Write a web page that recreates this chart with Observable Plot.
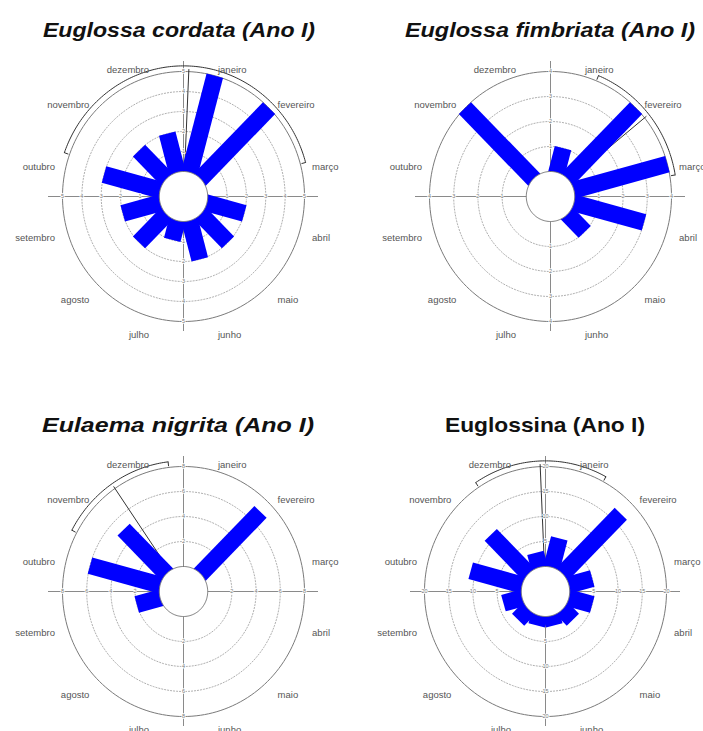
<!DOCTYPE html>
<html><head><meta charset="utf-8">
<script src="https://cdn.jsdelivr.net/npm/d3@7"></script>
<script src="https://cdn.jsdelivr.net/npm/@observablehq/plot@0.6"></script>
<style>
html,body{margin:0;padding:0;background:#fff;overflow:hidden;}
#root{position:relative;width:703px;height:731px;overflow:hidden;}
.title{position:absolute;width:400px;text-align:center;font-family:"Liberation Sans",Arial,sans-serif;font-weight:bold;font-size:21px;line-height:21px;color:#111;white-space:nowrap;transform-origin:50% 50%;}
.title span{display:inline-block;}
.panel{position:absolute;}
.panel svg{max-width:none !important;display:block;}
</style></head><body><div id="root"></div>
<script>
// ---- data ----
const months = ["janeiro","fevereiro","março","abril","maio","junho","julho","agosto","setembro","outubro","novembro","dezembro"];
const monthAngles = [15,45,75,105,135,165,195,225,255,285,315,345];
const cordata    = [5,5,0,2,2,2,1,2,2,3,2,2];
const fimbriata  = [1,4,4,3,1,0,0,0,0,0,4,0];
const nigrita    = [0,7,0,0,0,0,0,0,2,6,5,0];
const euglossina = [6,17,5,5,3,2,2,3,4,11,11,3];
const titles = ["Euglossa cordata (Ano I)","Euglossa fimbriata (Ano I)","Eulaema nigrita (Ano I)","Euglossina (Ano I)"];
const italicTitle = [true,true,true,false];
const scaleMax = [5,4,8,20];
const ringTicks = [[1,2,3,4,5],[1,2,3,4],[2,4,6,8],[5,10,15,20]];
const meanAngle = [2.5,51,325.5,357.5];
const ciLow  = [289.6,22.3,298,326.5];
const ciHigh = [74.9,80.5,353,28.5];
const series = [cordata,fimbriata,nigrita,euglossina];

// ---- layout (pixels) ----
const centers = [[182.7,196],[549.7,196],[182.7,591],[544.7,591]];
const titleCX = [179,550,178,545];
const titleTop = [19,19,414,414];
const titleWidth = [272,290,272,200];
const RX = 121, RY = 125, W = 340, H = 292;

const root = document.getElementById("root");
const rad = a => a*Math.PI/180;
const pol = (r,a) => ({x: r*Math.sin(rad(a)), y: r*Math.cos(rad(a))});
const circle = r => d3.range(0,361,2).map(a => pol(r,a));

series.forEach((vals, k) => {
  const max = scaleMax[k];
  const r0 = 0.2;
  const rho = v => r0 + (1-r0)*v/max;
  const bars = vals.map((v,i) => ({month: months[i], value: v, ...pol(rho(v), monthAngles[i])})).filter(d => d.value > 0);
  const rings = ringTicks[k].filter(t => t < max).flatMap(t => circle(rho(t)).map(p => ({t, ...p})));
  const outer = circle(rho(max));
  const inner = circle(r0);
  let lo = ciLow[k], hi = ciHigh[k]; if (hi < lo) hi += 360;
  const arcR = 1.045;
  const arc = d3.range(lo, hi, 1).concat([hi]).map(a => pol(arcR, a));
  const ciEnds = [lo, hi].map(a => ({a, p1: pol(arcR, a), p2: pol(arcR-0.035, a)}));
  const meanEnd = pol(1.02, meanAngle[k]);
  const tickLabels = ringTicks[k].flatMap(t => [0,90,180,270].map(a => ({t, ...pol(rho(t), a)})));
  const labels = months.map((m,i) => ({m, a: monthAngles[i], ...pol(1.1, monthAngles[i])}));

  const chart = Plot.plot({
    width: W, height: H, margin: 0,
    x: {domain: [-(W/2)/RX, (W/2)/RX], axis: null},
    y: {domain: [-(H/2)/RY, (H/2)/RY], axis: null},
    style: {background: "transparent", fontFamily: "'Liberation Sans', Arial, sans-serif"},
    marks: [
      Plot.line(rings, {x: "x", y: "y", z: "t", stroke: "#9a9a9a", strokeWidth: 0.8, strokeDasharray: "1.2,1.8"}),
      Plot.line(outer, {x: "x", y: "y", stroke: "#7a7a7a", strokeWidth: 1}),
      Plot.ruleY([0], {x1: -135/RX, x2: 135/RX, stroke: "#8a8a8a", strokeWidth: 1}),
      Plot.ruleX([0], {y1: -135/RY, y2: 135/RY, stroke: "#8a8a8a", strokeWidth: 1}),
      Plot.link([meanEnd], {x1: () => 0, y1: () => 0, x2: "x", y2: "y", stroke: "#333", strokeWidth: 1}),
      Plot.link(bars, {x1: () => 0, y1: () => 0, x2: "x", y2: "y", stroke: "#0000ff", strokeWidth: 17, strokeLinecap: "butt"}),
      Plot.line(inner, {x: "x", y: "y", fill: "white", stroke: "#777", strokeWidth: 1}),
      Plot.text(tickLabels, {x: "x", y: "y", text: d => String(d.t), fontSize: 5.5, fill: "#777", stroke: "white", strokeWidth: 1.5}),
      Plot.line(arc, {x: "x", y: "y", stroke: "#333", strokeWidth: 1}),
      Plot.link(ciEnds, {x1: d => d.p1.x, y1: d => d.p1.y, x2: d => d.p2.x, y2: d => d.p2.y, stroke: "#333", strokeWidth: 1}),
      Plot.text(labels.filter(d => d.a < 180), {x: "x", y: "y", text: "m", textAnchor: "start", dy: 6, fontSize: 9.5, fill: "#555"}),
      Plot.text(labels.filter(d => d.a > 180), {x: "x", y: "y", text: "m", textAnchor: "end", dy: 6, fontSize: 9.5, fill: "#555"})
    ]
  });
  const wrap = document.createElement("div");
  wrap.className = "panel";
  wrap.style.left = (centers[k][0] - W/2) + "px";
  wrap.style.top = (centers[k][1] - H/2) + "px";
  wrap.style.width = W + "px";
  wrap.style.height = H + "px";
  chart.style.width = W + "px";
  chart.style.height = H + "px";
  wrap.appendChild(chart);
  root.appendChild(wrap);

  const t = document.createElement("div");
  t.className = "title";
  const span = document.createElement("span");
  span.textContent = titles[k];
  t.appendChild(span);
  t.style.left = (titleCX[k] - 200) + "px";
  t.style.top = titleTop[k] + "px";
  t.style.fontStyle = italicTitle[k] ? "italic" : "normal";
  root.appendChild(t);
  const w = span.getBoundingClientRect().width;
  t.style.transform = "scaleX(" + (titleWidth[k] / w).toFixed(3) + ")";
});
</script>
</body></html>
